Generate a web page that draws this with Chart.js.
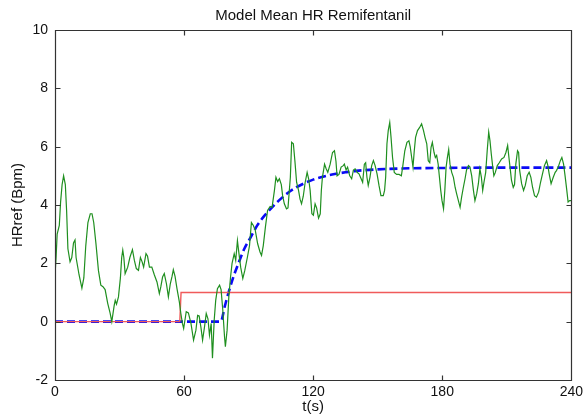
<!DOCTYPE html>
<html>
<head>
<meta charset="utf-8">
<script src="https://cdn.jsdelivr.net/npm/chart.js@4/dist/chart.umd.min.js"></script>
<style>
  html, body { margin: 0; padding: 0; background: #fff; }
  #wrap { width: 587px; height: 416px; position: relative; }
</style>
</head>
<body>
<div id="wrap"><canvas id="hrChart"></canvas></div>
<script>
// measured HR (noisy, green)
const measT = [0,0.5,1,2,2.6,3.3,4,4.8,5.4,6,7,7.8,8.6,9.3,9.8,10.5,11.2,12.5,13.4,14.3,15.3,16.4,17.2,18,19,20.2,21.3,22.3,23.3,24.5,25.6,26.4,27.5,28,28.6,29.5,30.4,31,31.5,32,32.6,33.8,34.8,36,36.9,37.8,38.8,39.7,40.5,41.2,42.3,43,43.9,45,46.2,47.4,48.5,49.2,50,50.8,51.8,52.7,53.6,54.4,55,55.8,56.7,57.8,58.5,59.2,59.8,60.5,61,62,63.2,64.4,65.5,66.3,67,67.8,68.6,69.5,70.3,71.1,71.8,72.6,73.2,74,74.7,75.5,76.5,77.2,78,78.8,79.2,80,80.8,81.6,82.3,83.3,84,84.8,85.4,86.3,87.3,88.2,89.4,90.4,91.3,92.2,93.1,94.2,95.3,96,96.8,97.8,98.8,100,100.9,102,102.7,103.5,104.3,105.2,105.8,106.6,107.6,108.3,109.4,110,110.8,111.5,112.3,113.2,113.9,114.6,115.4,116.3,117.2,117.9,118.6,119.4,120.1,120.9,121.6,122.5,123.3,123.8,124.3,125.3,126,126.8,127.9,129,129.9,130.6,131.1,132,133,134,134.5,135.3,136,137,137.9,138.7,139.5,140.4,141.3,142.3,143,143.8,144.4,145,145.6,146.4,147.2,148,148.8,149.7,150.6,151.5,152.6,153.2,153.7,154.3,154.9,155.6,156.2,156.9,157.7,158.8,159.9,161,161.6,162.6,163.6,164.5,165.1,165.8,166.4,167,167.6,168.5,169.5,170.4,171.3,172,172.8,173.5,174.2,174.8,175.4,176.2,176.8,177.4,178.1,178.7,179.3,179.9,180.6,181.2,181.8,182.4,183,183.6,184.4,185.2,186,186.7,187.5,188.3,189,189.8,190.6,191.3,192.2,192.9,193.7,194.5,195.2,196,196.8,197.5,198.2,198.8,199.4,200.2,200.9,201.6,202.2,202.8,203.4,204,204.6,205.6,206.5,207.6,208.7,209.6,210.4,211,211.6,212.2,213,213.6,214.2,215,215.5,216,216.9,217.8,218.6,219.5,220.4,221.2,222,222.9,223.8,224.8,225.7,226.6,227.5,228.5,229.1,229.7,230.6,231.6,232.5,233.1,233.9,234.9,235.6,236.4,237.1,237.9,238.5,239.2,240];
const measY = [1.6,2.2,3.0,3.3,4.1,4.7,5.0,4.7,3.8,2.5,2.05,2.2,2.7,2.8,2.2,1.9,1.6,1.15,1.5,2.6,3.4,3.7,3.7,3.4,2.7,1.75,1.25,1.2,1.1,0.63,0.3,0.0,0.55,0.73,0.6,0.85,1.5,2.2,2.45,2.2,1.65,1.87,2.2,2.47,2.1,1.82,1.76,2.2,2.05,1.87,2.33,2.25,1.87,1.87,1.6,1.36,0.96,1.2,1.53,1.65,1.3,0.85,1.3,1.55,1.78,1.55,1.13,0.68,0.28,-0.05,-0.23,0.1,0.34,0.3,-0.06,-0.63,-0.29,0.22,0.2,-0.18,-0.63,-0.18,0.28,0.1,-0.46,-0.06,-1.25,0.05,0.73,1.13,1.25,1.1,0.39,-0.52,-0.86,-0.29,0.85,1.53,2.0,2.33,2.1,2.78,2.4,1.87,1.48,1.75,2.2,2.6,3.4,3.3,3.13,2.67,2.39,2.27,2.6,3.24,3.81,3.95,3.92,4.5,4.95,4.8,4.9,4.7,4.32,4.04,3.87,3.9,4.95,6.15,6.1,5.52,4.78,4.5,4.2,4.04,4.3,4.78,5.12,4.9,4.5,3.7,3.65,4.04,3.9,3.55,3.7,4.5,4.95,5.4,5.25,5.12,5.4,5.8,5.86,5.5,5.0,5.05,5.3,5.35,5.4,5.2,5.3,5.0,4.9,5.2,5.24,5.12,5.07,4.9,4.78,5.4,5.45,4.95,4.67,4.95,5.35,5.52,5.35,5.07,4.67,4.32,4.32,4.5,4.95,6.1,6.55,6.83,6.32,5.63,5.12,5.05,5.05,5.0,5.3,5.86,6.15,6.2,6.0,5.63,5.3,5.86,6.32,6.55,6.66,6.78,6.55,6.32,6.1,5.52,5.45,5.98,6.15,5.8,5.63,5.7,5.4,4.95,4.5,4.15,3.87,4.5,5.3,5.63,5.9,5.4,5.12,4.95,4.6,4.38,4.15,3.92,4.27,4.6,4.9,5.2,5.35,5.3,5.0,4.5,4.15,4.38,4.73,5.24,4.95,4.5,4.78,5.12,5.86,6.5,6.2,5.75,5.35,5.0,5.1,5.35,5.45,5.58,5.63,5.8,6.04,5.63,5.24,4.84,4.6,4.7,5.4,5.86,5.8,5.18,4.73,4.5,4.67,5.0,5.12,4.95,4.6,4.32,4.27,4.44,4.78,5.07,5.35,5.52,5.35,5.07,4.73,4.95,5.12,5.18,5.3,5.52,5.63,5.4,5.0,4.5,4.1,4.15,4.15];

// model mean (blue dashed)
const modelT = [0,77,79,81,83,85,88,91,94,97,100,104,108,112,116,120,125,130,135,140,150,160,180,200,240];
const modelY = [0,0,0.55,1.08,1.55,1.95,2.5,2.9,3.3,3.6,3.85,4.15,4.4,4.6,4.75,4.87,4.98,5.06,5.12,5.17,5.22,5.25,5.27,5.28,5.28];

// infusion step (red)
const stepT = [0,58,58.6,240];
const stepY = [0,0,1,1];

const xTicks = [0, 60, 120, 180, 240];
const yTicks = [-2, 0, 2, 4, 6, 8, 10];

const pts = (ts, ys) => ts.map((t, i) => ({ x: t, y: ys[i] }));

// box + inward tick marks, matlab style
const frame = {
  id: 'frame',
  afterDatasetsDraw(chart) {
    const { ctx, chartArea: a, scales: { x, y } } = chart;
    const L = Math.round(a.left) + 0.5, R = Math.round(a.right) + 0.5;
    const T = Math.round(a.top) + 0.5, B = Math.round(a.bottom) + 0.5;
    ctx.save();
    ctx.strokeStyle = '#333';
    ctx.lineWidth = 1.2;
    ctx.beginPath();
    ctx.rect(L, T, R - L, B - T);
    x.ticks.forEach(t => {
      const px = Math.round(x.getPixelForValue(t.value)) + 0.5;
      ctx.moveTo(px, B); ctx.lineTo(px, B - 5);
      ctx.moveTo(px, T); ctx.lineTo(px, T + 5);
    });
    y.ticks.forEach(t => {
      const py = Math.round(y.getPixelForValue(t.value)) + 0.5;
      ctx.moveTo(L, py); ctx.lineTo(L + 5, py);
      ctx.moveTo(R, py); ctx.lineTo(R - 5, py);
    });
    ctx.stroke();
    ctx.restore();
  }
};

Chart.defaults.font.family = '"Liberation Sans", Arial, sans-serif';
Chart.defaults.color = '#111';

new Chart(document.getElementById('hrChart'), {
  type: 'line',
  data: {
    datasets: [
      { label: 'HR', data: pts(measT, measY), borderColor: '#1f8f1f', borderWidth: 1.2, pointRadius: 0, tension: 0 },
      { label: 'Infusion', data: pts(stepT, stepY), borderColor: '#f05a5a', borderWidth: 1.4, pointRadius: 0, tension: 0 },
      { label: 'Model', data: pts(modelT, modelY), borderColor: '#0a0af5', borderWidth: 2.6, borderDash: [8, 4], pointRadius: 0, cubicInterpolationMode: 'monotone' }
    ]
  },
  options: {
    responsive: true,
    maintainAspectRatio: false,
    animation: false,
    layout: { padding: { top: 0, right: 13, bottom: 0, left: 0 } },
    plugins: {
      legend: { display: false },
      tooltip: { enabled: false },
      title: {
        display: true,
        text: 'Model Mean HR Remifentanil',
        fullSize: false,
        font: { size: 15, weight: 'normal' },
        padding: { top: 7, bottom: 5 }
      }
    },
    scales: {
      x: {
        type: 'linear', min: 0, max: 240,
        afterBuildTicks: s => { s.ticks = xTicks.map(v => ({ value: v })); },
        ticks: { font: { size: 14 }, padding: 4, maxRotation: 0 },
        grid: { display: false, drawTicks: false, tickLength: 0 },
        border: { display: false },
        title: { display: true, text: 't(s)', font: { size: 15 }, padding: { top: 1, bottom: 0 } },
        afterFit: s => { s.height = 36; }
      },
      y: {
        type: 'linear', min: -2, max: 10,
        afterBuildTicks: s => { s.ticks = yTicks.map(v => ({ value: v })); },
        ticks: { font: { size: 14 }, padding: 7 },
        grid: { display: false, drawTicks: false, tickLength: 0 },
        border: { display: false },
        title: { display: true, text: 'HRref (Bpm)', font: { size: 15 }, padding: { top: 9, bottom: 0 } },
        afterFit: s => { s.width = 55; }
      }
    }
  },
  plugins: [frame]
});
</script>
</body>
</html>
